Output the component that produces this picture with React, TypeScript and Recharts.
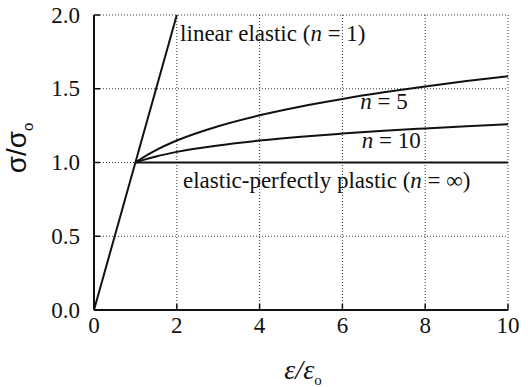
import React from "react";
import {
  LineChart,
  Line,
  XAxis,
  YAxis,
  CartesianGrid,
  ReferenceDot,
} from "recharts";

// normalised strain samples for the power-law hardening curves
const strain = [1, 1.2, 1.5, 2, 3, 4, 5, 6, 7, 8, 9, 10];
const stressN5 = [1.0, 1.037, 1.084, 1.149, 1.246, 1.32, 1.38, 1.431, 1.476, 1.516, 1.552, 1.585];
const stressN10 = [1.0, 1.018, 1.041, 1.072, 1.116, 1.149, 1.175, 1.196, 1.215, 1.231, 1.246, 1.259];

const elasticStrain = [0, 2];
const elasticStress = [0, 2];
const plasticStrain = [1, 10];
const plasticStress = [1, 1];

const xTicks = [0, 2, 4, 6, 8, 10];
const yTicks = [0, 0.5, 1.0, 1.5, 2.0];

const toPoints = (xs: number[], ys: number[]) => xs.map((x, i) => ({ x, y: ys[i] }));

const serif = "'Liberation Serif', 'Times New Roman', Times, serif";
const INK = "#111";

type Piece = { t: string; italic?: boolean };

const curveLabels: { x: number; y: number; parts: Piece[] }[] = [
  { x: 2.08, y: 1.88, parts: [{ t: "linear elastic (" }, { t: "n", italic: true }, { t: " = 1)" }] },
  { x: 6.43, y: 1.42, parts: [{ t: "n", italic: true }, { t: " = 5" }] },
  { x: 6.47, y: 1.15, parts: [{ t: "n", italic: true }, { t: " = 10" }] },
  {
    x: 2.15,
    y: 0.88,
    parts: [{ t: "elastic-perfectly plastic (" }, { t: "n", italic: true }, { t: " = ∞)" }],
  },
];

const makeLabel = (parts: Piece[]) => (props: any) => {
  const vb = props.viewBox || {};
  return (
    <text
      x={vb.x}
      y={vb.y}
      dominantBaseline="central"
      fontFamily={serif}
      fontSize={23}
      fill={INK}
    >
      {parts.map((p, i) => (
        <tspan key={i} fontStyle={p.italic ? "italic" : "normal"}>
          {p.t}
        </tspan>
      ))}
    </text>
  );
};

const XTick = (props: any) => {
  const { x, y, payload } = props;
  return (
    <text x={x} y={y} dy={17} textAnchor="middle" fontFamily={serif} fontSize={23} fill={INK}>
      {payload.value}
    </text>
  );
};

const YTick = (props: any) => {
  const { x, y, payload } = props;
  return (
    <text x={x} y={y} dominantBaseline="central" textAnchor="end" fontFamily={serif} fontSize={23} fill={INK}>
      {Number(payload.value).toFixed(1)}
    </text>
  );
};

export default function App() {
  return (
    <div
      style={{
        position: "absolute",
        left: 0,
        top: 0,
        width: 528,
        height: 387,
        background: "#fff",
        fontFamily: serif,
      }}
    >
      <LineChart
        width={528}
        height={387}
        margin={{ top: 15, right: 20, bottom: 37, left: 0 }}
      >
        <CartesianGrid
          stroke="#333"
          strokeDasharray="1 2"
          xAxisId="b"
          yAxisId="l"
        />
        <XAxis
          xAxisId="b"
          dataKey="x"
          type="number"
          domain={[0, 10]}
          ticks={xTicks}
          height={40}
          tickSize={-6}
          tickMargin={12}
          tickLine={{ stroke: INK, strokeWidth: 1.5 }}
          axisLine={{ stroke: INK, strokeWidth: 2 }}
          tick={<XTick />}
          allowDuplicatedCategory={false}
        />
        <XAxis
          xAxisId="t"
          orientation="top"
          dataKey="x"
          type="number"
          domain={[0, 10]}
          ticks={xTicks}
          height={0}
          tickSize={-6}
          tick={false}
          tickLine={{ stroke: INK, strokeWidth: 1.5 }}
          axisLine={{ stroke: INK, strokeWidth: 2 }}
        />
        <YAxis
          yAxisId="l"
          type="number"
          domain={[0, 2]}
          ticks={yTicks}
          width={94}
          tickSize={-6}
          tickMargin={20}
          tickLine={{ stroke: INK, strokeWidth: 1.5 }}
          axisLine={{ stroke: INK, strokeWidth: 2 }}
          tick={<YTick />}
        />
        <YAxis
          yAxisId="r"
          orientation="right"
          type="number"
          domain={[0, 2]}
          ticks={yTicks}
          width={0}
          tickSize={-6}
          tick={false}
          tickLine={{ stroke: INK, strokeWidth: 1.5 }}
          axisLine={{ stroke: INK, strokeWidth: 2 }}
        />

        <Line
          xAxisId="b"
          yAxisId="l"
          data={toPoints(elasticStrain, elasticStress)}
          dataKey="y"
          type="linear"
          stroke={INK}
          strokeWidth={2}
          dot={false}
          isAnimationActive={false}
        />
        <Line
          xAxisId="b"
          yAxisId="l"
          data={toPoints(strain, stressN5)}
          dataKey="y"
          type="monotone"
          stroke={INK}
          strokeWidth={2}
          dot={false}
          isAnimationActive={false}
        />
        <Line
          xAxisId="b"
          yAxisId="l"
          data={toPoints(strain, stressN10)}
          dataKey="y"
          type="monotone"
          stroke={INK}
          strokeWidth={2}
          dot={false}
          isAnimationActive={false}
        />
        <Line
          xAxisId="b"
          yAxisId="l"
          data={toPoints(plasticStrain, plasticStress)}
          dataKey="y"
          type="linear"
          stroke={INK}
          strokeWidth={2}
          dot={false}
          isAnimationActive={false}
        />

        {curveLabels.map((l, i) => (
          <ReferenceDot
            key={i}
            xAxisId="b"
            yAxisId="l"
            x={l.x}
            y={l.y}
            r={0}
            fill="none"
            stroke="none"
            label={{ content: makeLabel(l.parts) }}
          />
        ))}
      </LineChart>

      {/* axis titles */}
      <div
        style={{
          position: "absolute",
          left: 19,
          top: 148,
          transform: "translate(-50%, -50%) rotate(-90deg)",
          fontFamily: "'Liberation Sans', Arial, sans-serif",
          fontSize: 28,
          color: INK,
          whiteSpace: "nowrap",
          lineHeight: 1,
        }}
      >
        σ/σ<sub style={{ fontSize: 15 }}>o</sub>
      </div>
      <div
        style={{
          position: "absolute",
          left: 303,
          top: 372,
          transform: "translate(-50%, -50%)",
          fontFamily: serif,
          fontStyle: "italic",
          fontSize: 28,
          color: INK,
          whiteSpace: "nowrap",
          lineHeight: 1,
        }}
      >
        ε/ε<sub style={{ fontSize: 15, fontStyle: "normal" }}>o</sub>
      </div>
    </div>
  );
}
